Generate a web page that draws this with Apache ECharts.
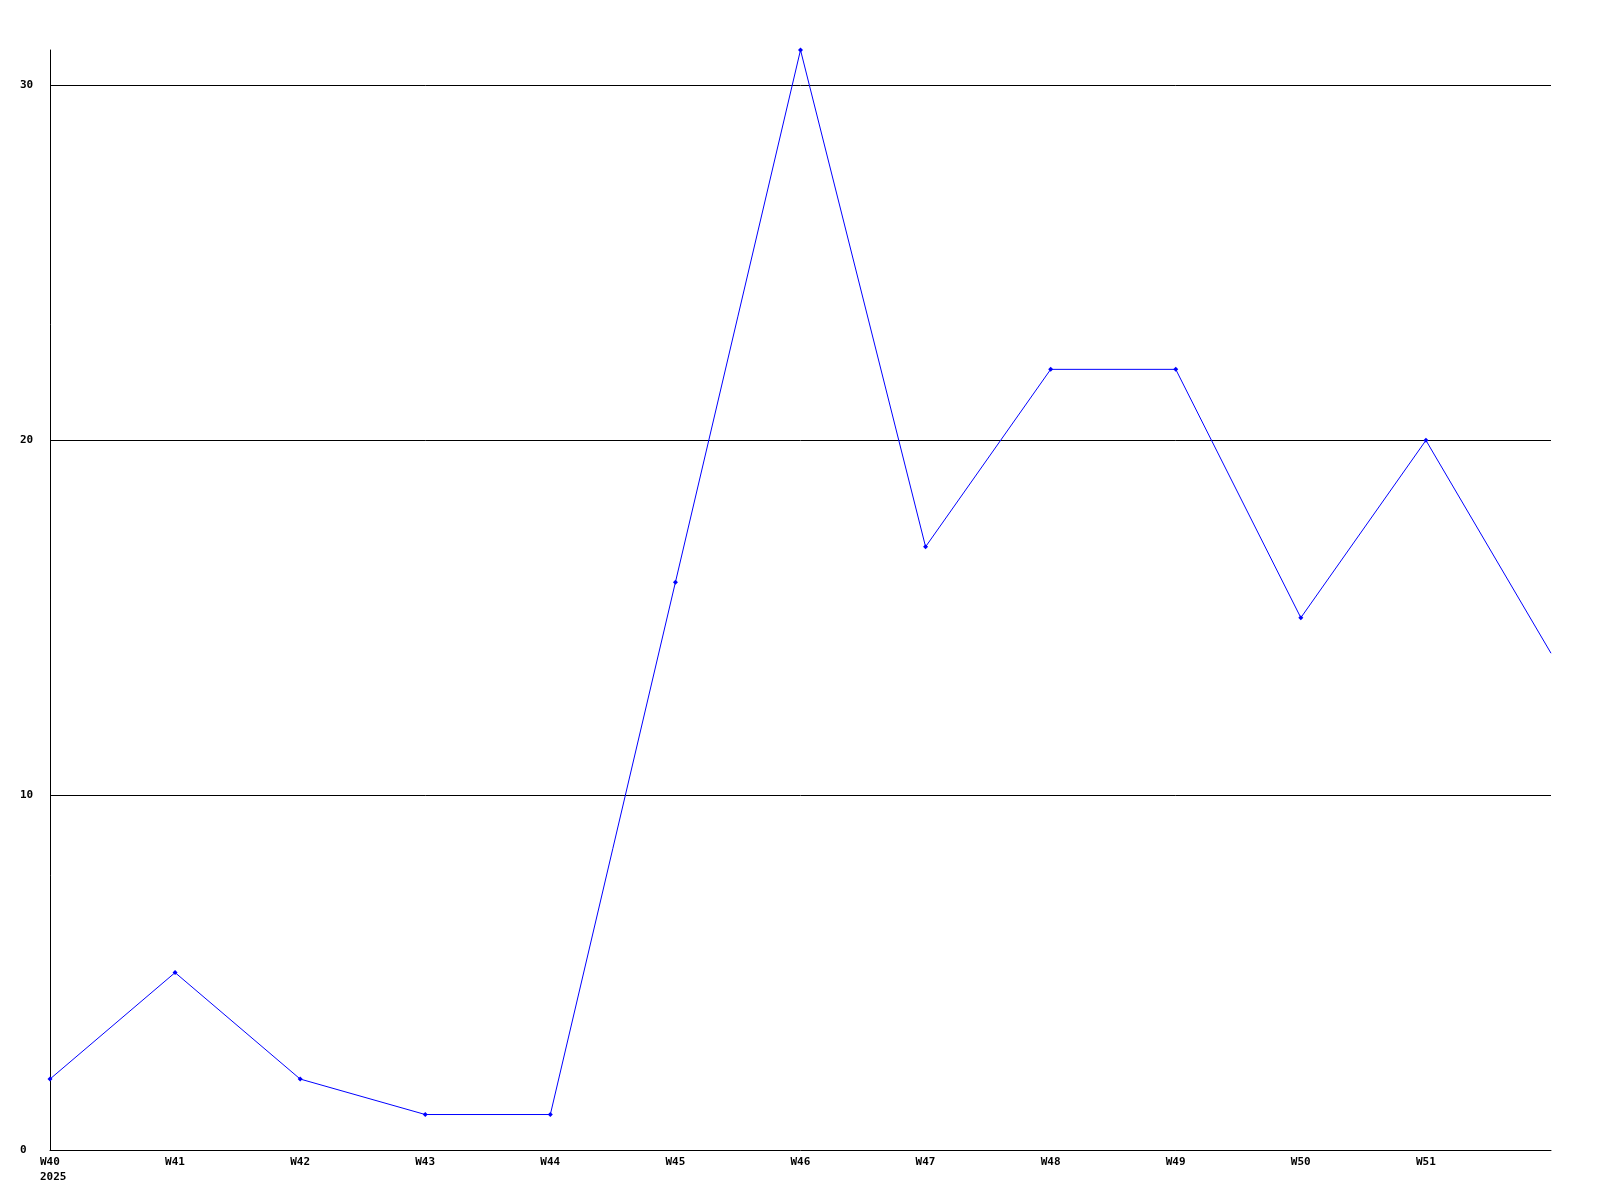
<!DOCTYPE html>
<html>
<head>
<meta charset="utf-8">
<script src="https://cdn.jsdelivr.net/npm/echarts@6/dist/echarts.min.js"></script>
<style>html,body{margin:0;padding:0;background:#fff}#c{width:1600px;height:1200px}</style>
</head>
<body>
<div id="c"></div>
<script>
const weeks = ['W40','W41','W42','W43','W44','W45','W46','W47','W48','W49','W50','W51','W52'];
const yearLabel = '2025';
const values = [2, 5, 2, 1, 1, 16, 31, 17, 22, 22, 15, 20, 14];
const yTicks = [0, 10, 20, 30];

const font = {fontFamily: '"DejaVu Sans Mono", monospace', fontWeight: 'bold', fontSize: 11, color: '#000'};
const chart = echarts.init(document.getElementById('c'), null, {renderer: 'canvas'});
chart.setOption({
  animation: false,
  backgroundColor: '#fff',
  grid: {left: 50, right: 49, top: 50, bottom: 50, containLabel: false},
  xAxis: {
    type: 'category',
    data: weeks,
    boundaryGap: false,
    axisLine: {lineStyle: {color: '#000', width: 1}},
    axisTick: {show: false},
    splitLine: {show: false},
    axisLabel: Object.assign({}, font, {
      margin: 5,
      showMaxLabel: false,
      interval: 0,
      formatter: function (v, i) {
        if (i === weeks.length - 1) return '';
        if (i === 0) return '{a|' + v + '}\n{b|' + yearLabel + '}';
        return '{a|' + v + '}';
      },
      rich: {
        a: Object.assign({}, font, {width: 20, align: 'left', lineHeight: 15}),
        b: Object.assign({}, font, {width: 20, align: 'left', lineHeight: 15})
      }
    })
  },
  yAxis: {
    type: 'value',
    min: 0,
    max: 31,
    interval: 10,
    axisLine: {show: true, lineStyle: {color: '#000', width: 1}},
    axisTick: {show: false},
    splitLine: {show: true, showMinLine: false, showMaxLine: false, lineStyle: {color: '#000', width: 1}},
    axisLabel: Object.assign({}, font, {
      align: 'left',
      margin: 30,
      showMaxLabel: false,
      formatter: function (v) { return yTicks.indexOf(v) >= 0 ? String(v) : ''; }
    })
  },
  series: [{
    type: 'line',
    data: values.map(function (v, i) { return i === values.length - 1 ? {value: v, symbol: 'none'} : v; }),
    symbol: 'diamond',
    symbolSize: 5,
    showAllSymbol: true,
    lineStyle: {color: '#0000ff', width: 1},
    itemStyle: {color: '#0000ff'},
    emphasis: {disabled: true}
  }]
});
</script>
</body>
</html>
